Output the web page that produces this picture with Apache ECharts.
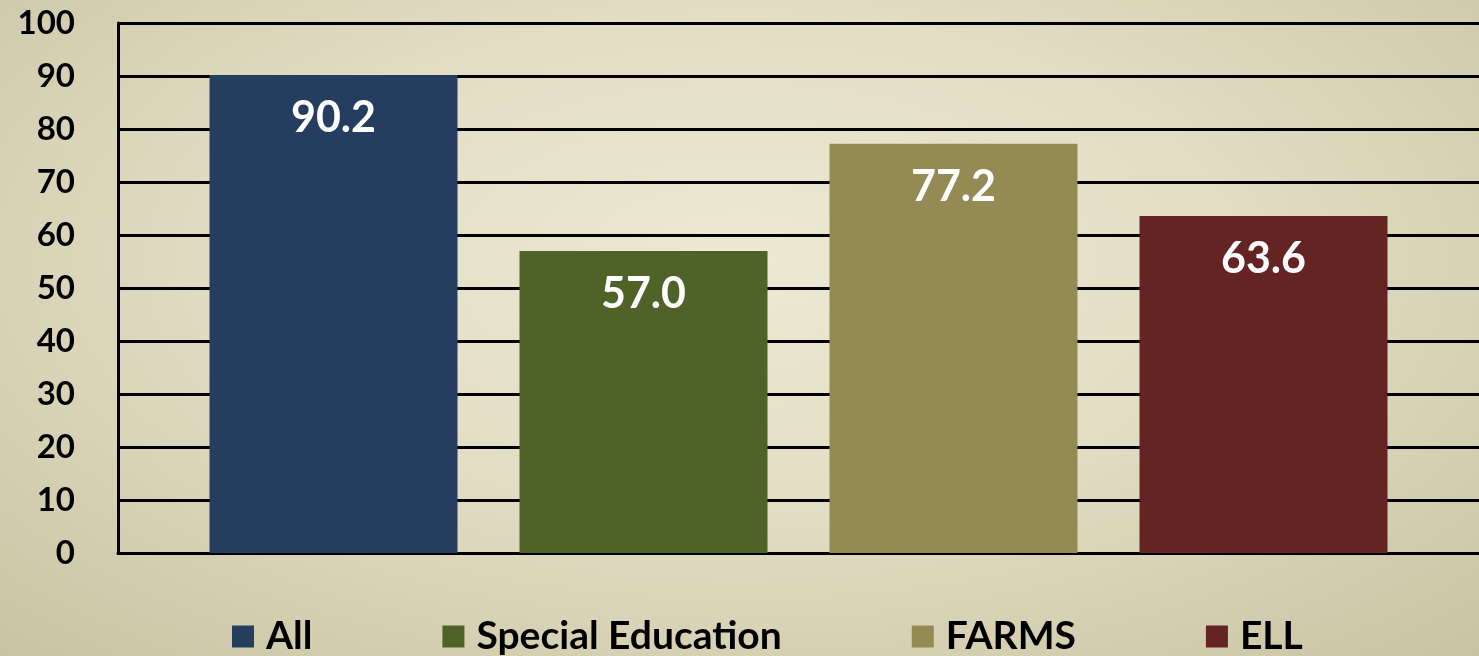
<!DOCTYPE html>
<html>
<head>
<meta charset="utf-8">
<script src="https://cdn.jsdelivr.net/npm/echarts@6/dist/echarts.min.js"></script>
<style>
html,body{margin:0;padding:0;}
#c{width:1479px;height:656px;background:radial-gradient(ellipse 75% 85% at 50% 40%, #EDE9D3 0%, #E2DDC3 45%, #C8C2A1 100%);}
</style>
</head>
<body>
<div id="c"></div>
<script>
const seriesNames = ['All', 'Special Education', 'FARMS', 'ELL'];
const seriesValues = [90.2, 57.0, 77.2, 63.6];
const seriesColors = ['#253D5E', '#4F6228', '#948A54', '#632423'];
const categories = [''];

const chart = echarts.init(document.getElementById('c'), null, {renderer: 'canvas'});
const FONT = 'Lato, "Open Sans", sans-serif';

const series = seriesNames.map((name, i) => ({
  name: name,
  type: 'bar',
  data: [seriesValues[i]],
  barWidth: 248,
  barGap: '25%',
  itemStyle: {color: seriesColors[i]},
  label: {
    show: true,
    position: 'insideTop',
    distance: 22,
    color: '#fff',
    fontFamily: FONT,
    fontWeight: 'bold',
    fontSize: 43,
    formatter: p => p.value.toFixed(1)
  },
  z: 3
}));

chart.setOption({
  animation: false,
  grid: {left: 118, right: 0, top: 23, bottom: 103, containLabel: false},
  legend: {
    data: seriesNames,
    left: 232,
    top: 617,
    padding: 0,
    itemGap: 130,
    itemWidth: 22,
    itemHeight: 22,
    icon: 'rect',
    textStyle: {fontFamily: FONT, fontWeight: 'bold', fontSize: 39, color: '#000', padding: [0, 0, 0, 7]}
  },
  xAxis: {
    type: 'category',
    data: categories,
    axisLine: {show: true, lineStyle: {color: '#000', width: 3}},
    axisTick: {show: false},
    axisLabel: {show: false}
  },
  yAxis: {
    type: 'value',
    min: 0,
    max: 100,
    interval: 10,
    axisLine: {show: true, lineStyle: {color: '#000', width: 3}},
    axisTick: {show: false},
    axisLabel: {fontFamily: FONT, fontWeight: 'bold', fontSize: 33, color: '#000', margin: 43, padding: [4, 0, 0, 0]},
    splitLine: {show: true, lineStyle: {color: '#000', width: 3}}
  },
  series: series
});
</script>
</body>
</html>
